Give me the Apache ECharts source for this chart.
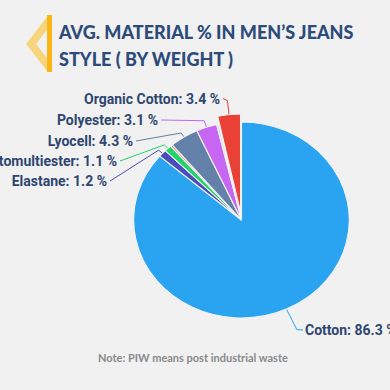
<!DOCTYPE html>
<html><head><meta charset="utf-8">
<script src="https://cdn.jsdelivr.net/npm/echarts@6/dist/echarts.min.js"></script>
<style>
html,body{margin:0;padding:0;background:#f1f1f1;}
#wrap{position:relative;width:390px;height:390px;overflow:hidden;}
#main,#pie{position:absolute;left:0;top:0;width:390px;height:390px;}
#pie{transform-origin:241.5px 220px;transform:scaleX(1.1);}
</style></head><body>
<div id="wrap"><div id="main"></div><div id="pie"></div></div>
<script>
// ---- data ----
const categories = ['Cotton', 'Elastane', 'Elastomultiester', 'PIW Cotton', 'Lyocell', 'Polyester', 'Other', 'Organic Cotton'];
const values = [86.3, 1.2, 1.1, 0.3, 4.3, 3.1, 0.3, 3.4];
const labelled = [true, true, true, false, true, true, false, true];
const titleLines = ['AVG. MATERIAL % IN MEN\u2019S JEANS', 'STYLE ( BY WEIGHT )'];
const noteText = 'Note: PIW means post industrial waste';

// ---- styles ----
const sliceColors = ['#2aa4f0', '#4a4cbd', '#22d36b', '#f26b3a', '#6381a9', '#c666f2', '#b4e4e6', '#ea4137'];
const CX = 241.5, CY = 220, R = 98, SX = 1.1, SEL = 8;
const labelPlace = [
  {x: 305, y: 330, k: 23, align: 'left'},
  {x: 107, y: 181, k: 5, align: 'right'},
  {x: 117, y: 161, k: 5, align: 'right'},
  null,
  {x: 133, y: 141, k: 5, align: 'right'},
  {x: 158, y: 120, k: 7, align: 'right'},
  null,
  {x: 220, y: 98.5, k: 14, align: 'right'}
];
const selectedName = 'Organic Cotton';

// ---- pie (elliptical via horizontal stretch) ----
const pie = echarts.init(document.getElementById('pie'), null, {renderer: 'svg'});
pie.setOption({
  animation: false,
  series: [{
    type: 'pie', center: [CX, CY], radius: R, startAngle: 90, clockwise: true,
    silent: true, selectedMode: 'single', selectedOffset: SEL,
    label: {show: false}, labelLine: {show: false},
    itemStyle: {borderColor: '#f3f3f3', borderWidth: 1},
    emphasis: {disabled: true},
    data: categories.map((n, i) => ({name: n, value: values[i], selected: n === selectedName, itemStyle: {color: sliceColors[i]}}))
  }]
});

// ---- main layer: title, note, labels ----
const total = values.reduce((a, b) => a + b, 0);
function midDir(i) {
  let before = 0; for (let j = 0; j < i; j++) before += values[j];
  const t = (before + values[i] / 2) / total * Math.PI * 2;
  return [Math.sin(t), -Math.cos(t)];
}
const main = echarts.init(document.getElementById('main'), null, {renderer: 'svg'});
main.setOption({
  backgroundColor: '#f1f1f1',
  animation: false,
  title: [
    {text: titleLines.join('\n'), left: 59, top: 18, padding: 0,
     textStyle: {fontFamily: 'Lato', fontWeight: 900, fontSize: 18, lineHeight: 27, color: '#2d4b7a'}},
    {text: noteText, left: 98, top: 352, padding: 0,
     textStyle: {fontFamily: 'Lato', fontWeight: 700, fontSize: 11, color: '#8a8a8a'}}
  ],
  graphic: [
    {type: 'polygon', shape: {points: [[47, 17], [26, 44], [47, 71], [47, 58], [36, 44], [47, 30]]}, style: {fill: 'rgba(249,206,95,0.8)'}},
    {type: 'rect', shape: {x: 47, y: 15, width: 5, height: 57}, style: {fill: '#fdb515'}}
  ],
  series: [{
    type: 'pie', center: [CX, CY], radius: R, startAngle: 90, clockwise: true,
    silent: true, avoidLabelOverlap: false,
    itemStyle: {color: 'rgba(0,0,0,0)', borderWidth: 0},
    emphasis: {disabled: true},
    label: {show: true, formatter: '{b}: {c} %', fontFamily: 'Roboto', fontWeight: 700, fontSize: 14, color: '#2e4670'},
    labelLine: {show: true, length: 8, length2: 8, lineStyle: {width: 1}},
    labelLayout: function (params) {
      const i = params.dataIndex, p = labelPlace[i];
      if (!p) return {};
      let d = midDir(i);
      const pts = params.labelLinePoints;
      let base;
      if (pts && pts.length >= 2) {
        const vx = pts[1][0] - pts[0][0], vy = pts[1][1] - pts[0][1];
        const len = Math.hypot(vx, vy) || 1;
        d = [vx / len, vy / len];
        base = [pts[0][0], pts[0][1]];
      } else {
        base = [CX + d[0] * R, CY + d[1] * R];
      }
      let ax = CX + (base[0] - CX) * SX, ay = base[1];
      if (categories[i] === selectedName) { ax += d[0] * SEL * SX; ay += d[1] * SEL; }
      const ex = d[0] * SX, ey = d[1], el = Math.hypot(ex, ey);
      const bx = ax + ex / el * p.k, by = ay + ey / el * p.k;
      const tx = p.align === 'right' ? p.x + 3 : p.x - 2;
      return {x: p.x, y: p.y, align: p.align, verticalAlign: 'middle',
              labelLinePoints: [[ax, ay], [bx, by], [tx, p.y]]};
    },
    data: categories.map((n, i) => ({
      name: n, value: values[i],
      label: {show: labelled[i]},
      labelLine: {show: labelled[i], lineStyle: {color: sliceColors[i]}}
    }))
  }]
});
</script>
</body></html>
